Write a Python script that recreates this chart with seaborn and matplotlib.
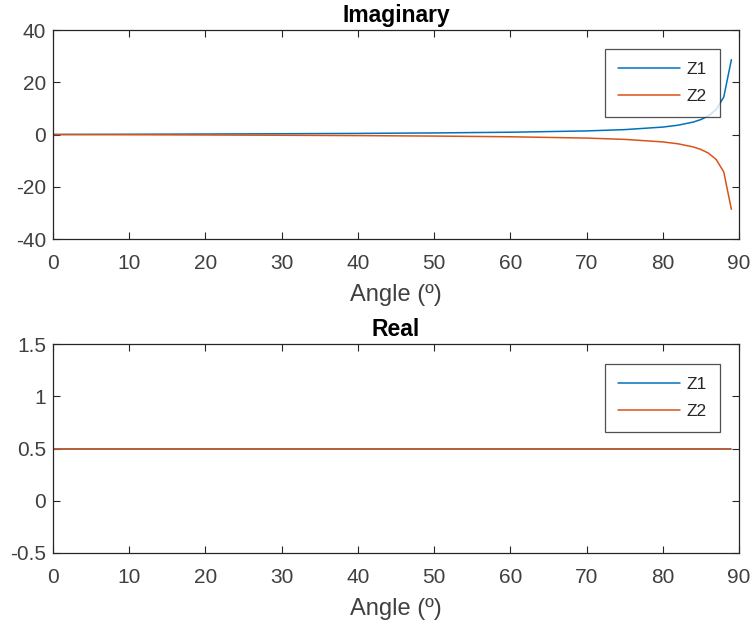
import matplotlib
matplotlib.use("Agg")
import matplotlib.pyplot as plt
import seaborn as sns
import pandas as pd

# Angle samples (degrees) and the imaginary parts of the two impedances
angle_deg = [0, 10, 20, 30, 40, 50, 60, 70, 75, 80, 82, 84, 85, 86, 87, 88, 89]
z1_imag = [0.0, 0.09, 0.18, 0.29, 0.42, 0.60, 0.87, 1.37, 1.87, 2.84,
           3.56, 4.76, 5.72, 7.15, 9.54, 14.32, 28.64]
z2_imag = [-0.0, -0.09, -0.18, -0.29, -0.42, -0.60, -0.87, -1.37, -1.87, -2.84,
           -3.56, -4.76, -5.72, -7.15, -9.54, -14.32, -28.64]
# Real parts are constant
z1_real = [0.5] * len(angle_deg)
z2_real = [0.5] * len(angle_deg)

series_names = ["Z1", "Z2"]
colors = {"Z1": "#0072BD", "Z2": "#D95319"}

imag_df = pd.DataFrame({
    "Angle": angle_deg * 2,
    "Value": z1_imag + z2_imag,
    "Series": ["Z1"] * len(angle_deg) + ["Z2"] * len(angle_deg),
})
real_df = pd.DataFrame({
    "Angle": angle_deg * 2,
    "Value": z1_real + z2_real,
    "Series": ["Z1"] * len(angle_deg) + ["Z2"] * len(angle_deg),
})

sns.set_theme(style="white")
plt.rcParams["font.family"] = ["Liberation Sans", "DejaVu Sans"]

fig = plt.figure(figsize=(7.52, 6.28), dpi=100)
W, H = 752, 628


def px_axes(left, top, right, bottom):
    return fig.add_axes([left / W, 1 - bottom / H, (right - left) / W, (bottom - top) / H])


ax1 = px_axes(53, 30, 739, 239)
ax2 = px_axes(53, 344, 739, 553)

tick_col = "#262626"


def style(ax, df, title, ylim, yticks, legend_box):
    sns.lineplot(data=df, x="Angle", y="Value", hue="Series", hue_order=series_names,
                 palette=colors, ax=ax, linewidth=1.1, estimator=None, sort=False)
    ax.set_xlim(0, 90)
    ax.set_ylim(*ylim)
    ax.set_xticks(range(0, 91, 10))
    ax.set_yticks(yticks)
    ax.set_yticklabels([("%g" % v) for v in yticks])
    ax.tick_params(direction="in", length=5, width=0.8, colors=tick_col,
                   labelsize=15, top=True, right=True, bottom=True, left=True,
                   labelcolor="#404040")
    ax.tick_params(axis="x", pad=11)
    ax.tick_params(axis="y", pad=5)
    for s in ax.spines.values():
        s.set_color("#262626")
        s.set_linewidth(0.9)
    ax.set_xlabel("Angle (º)", fontsize=17, color="#404040", labelpad=8)
    ax.set_ylabel("")
    ax.set_title(title, fontsize=16.5, fontweight="bold", color="black", pad=6)
    leg = ax.legend(loc="upper left", bbox_to_anchor=legend_box, bbox_transform=fig.transFigure,
                    frameon=True, fancybox=False, shadow=False, fontsize=12.5,
                    handlelength=3.6, handletextpad=0.35, borderpad=0.74,
                    labelspacing=0.7, borderaxespad=0)
    leg.get_frame().set_edgecolor("#262626")
    leg.get_frame().set_linewidth(0.9)
    for line in leg.get_lines():
        line.set_linewidth(1.1)


style(ax1, imag_df, "Imaginary", (-40, 40), [-40, -20, 0, 20, 40], (605 / W, 1 - 49 / H))
style(ax2, real_df, "Real", (-0.5, 1.5), [-0.5, 0, 0.5, 1, 1.5], (605 / W, 1 - 364 / H))

fig.savefig("out.png", dpi=100)
